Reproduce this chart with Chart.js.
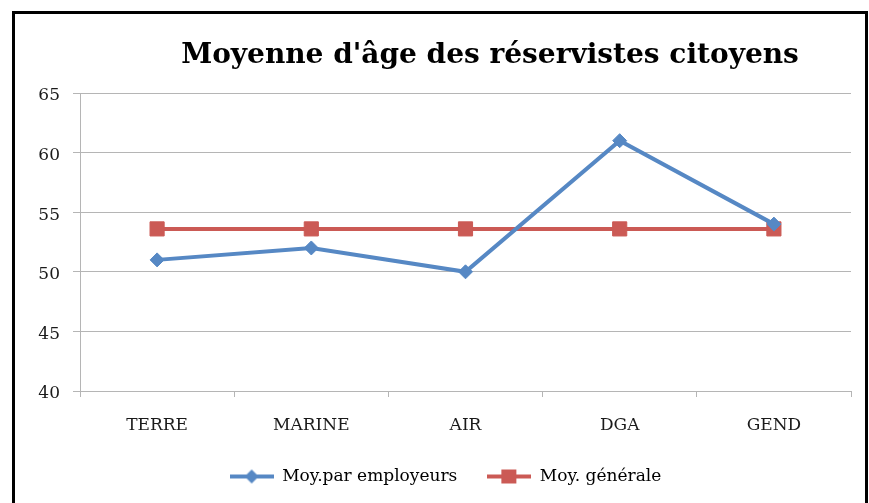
<!DOCTYPE html>
<html>
<head>
<meta charset="utf-8">
<script src="https://cdn.jsdelivr.net/npm/chart.js@4/dist/chart.umd.min.js"></script>
<style>
  html, body { margin: 0; padding: 0; background: #fff; overflow: hidden; }
  #wrap { position: relative; width: 869px; height: 503px; }
  #frame {
    position: absolute; left: 12px; top: 11px; width: 850px; height: 600px;
    border: 3px solid #000; box-sizing: content-box;
  }
  canvas { position: absolute; left: 0; top: 0; }
</style>
</head>
<body>
<div id="wrap">
  <div id="frame"></div>
  <canvas id="myCanvas" width="869" height="503"></canvas>
</div>
<script>
const chartTitle = "Moyenne d'âge des réservistes citoyens";
const categories = ["TERRE", "MARINE", "AIR", "DGA", "GEND"];
const employerAvg = [51, 52, 50, 61, 54];
const generalAvg = [53.6, 53.6, 53.6, 53.6, 53.6];
const seriesNames = ["Moy.par employeurs", "Moy. générale"];
const yMin = 40;
const yMax = 65;
const yStep = 5;

const BLUE = "#5688c4";
const RED = "#cb5a55";
const GRID = "#b5b5b5";
const SERIF = "'DejaVu Serif', 'Liberation Serif', serif";

// little line + marker images for the legend
function legendIcon(color, shape) {
  const c = document.createElement("canvas");
  c.width = 44;
  c.height = 16;
  const ctx = c.getContext("2d");
  ctx.strokeStyle = color;
  ctx.fillStyle = color;
  ctx.lineWidth = 4;
  ctx.beginPath();
  ctx.moveTo(0, 8);
  ctx.lineTo(44, 8);
  ctx.stroke();
  ctx.beginPath();
  if (shape === "diamond") {
    ctx.moveTo(22, 1); ctx.lineTo(29, 8); ctx.lineTo(22, 15); ctx.lineTo(15, 8);
  } else {
    ctx.rect(14, 1, 15, 14);
  }
  ctx.closePath();
  ctx.fill();
  return c;
}
const icons = [legendIcon(BLUE, "diamond"), legendIcon(RED, "square")];

const titlePlugin = {
  id: "sheetTitle",
  afterLayout(chart) {
    // legend sits a bit right of centre in the original
    chart.legend.left += 13;
    chart.legend.right += 13;
  },
  afterDraw(chart) {
    const ctx = chart.ctx;
    ctx.save();
    ctx.font = "bold 28px 'DejaVu Serif', serif";
    ctx.fillStyle = "#000";
    ctx.textAlign = "center";
    ctx.textBaseline = "alphabetic";
    ctx.fillText(chartTitle, 490, 63);
    ctx.restore();
  },
};

new Chart(document.getElementById("myCanvas"), {
  type: "line",
  data: {
    labels: categories,
    datasets: [
      {
        label: seriesNames[0],
        data: employerAvg,
        borderColor: BLUE,
        backgroundColor: BLUE,
        borderWidth: 4,
        pointStyle: "rectRot",
        pointRadius: 7,
        pointBorderWidth: 1,
        tension: 0,
      },
      {
        label: seriesNames[1],
        data: generalAvg,
        borderColor: RED,
        backgroundColor: RED,
        borderWidth: 4,
        pointStyle: "rect",
        pointRadius: 10,
        pointBorderWidth: 1,
        tension: 0,
      },
    ],
  },
  plugins: [titlePlugin],
  options: {
    responsive: false,
    animation: false,
    layout: {
      padding: { top: 93, left: 14, right: 18, bottom: 8 },
    },
    plugins: {
      title: { display: false },
      tooltip: { enabled: false },
      legend: {
        position: "bottom",
        labels: {
          usePointStyle: true,
          pointStyleWidth: 44,
          padding: 30,
          color: "#1a1a1a",
          font: { family: SERIF, size: 17 },
          generateLabels(chart) {
            return chart.data.datasets.map((ds, i) => ({
              text: ds.label,
              pointStyle: icons[i],
              fillStyle: ds.borderColor,
              strokeStyle: ds.borderColor,
              lineWidth: 0,
              datasetIndex: i,
              hidden: false,
            }));
          },
        },
      },
    },
    scales: {
      x: {
        offset: true,
        grid: {
          offset: true,
          drawOnChartArea: false,
          color: GRID,
          tickLength: 6,
        },
        border: { color: GRID, width: 1 },
        ticks: {
          padding: 18,
          color: "#1a1a1a",
          font: { family: SERIF, size: 17 },
        },
        afterFit(scale) { scale.height = 47; },
      },
      y: {
        min: yMin,
        max: yMax,
        grid: { color: GRID, tickLength: 7 },
        border: { color: GRID, width: 1 },
        ticks: {
          stepSize: yStep,
          padding: 13,
          labelOffset: 3,
          color: "#1a1a1a",
          font: { family: SERIF, size: 17 },
        },
        afterFit(scale) { scale.width = 66; },
      },
    },
  },
});
</script>
</body>
</html>
